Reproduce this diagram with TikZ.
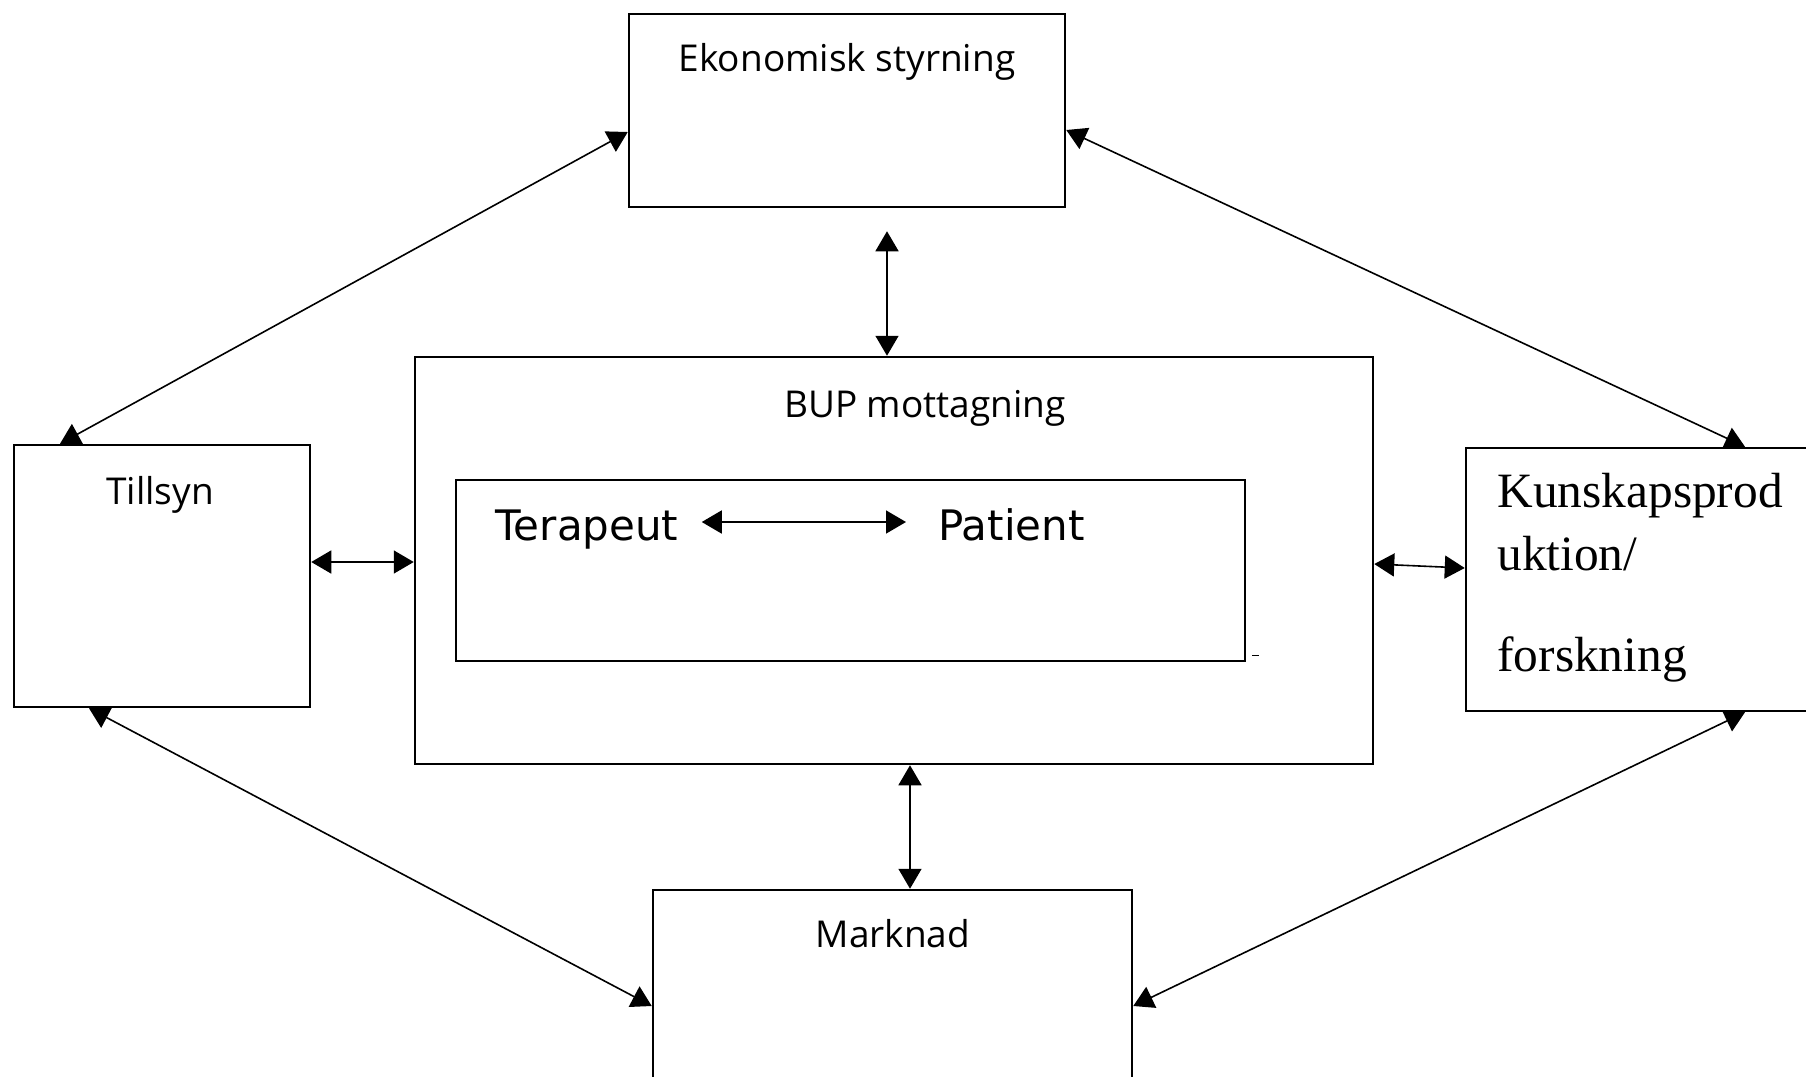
\documentclass[tikz,border=0pt]{standalone}
\usepackage{fontspec}
\newfontfamily\boxfont{Open Sans}
\newfontfamily\pairfont{DejaVu Sans}
\newfontfamily\kunfont{Liberation Serif}
\usetikzlibrary{arrows.meta}

\begin{document}
\begin{tikzpicture}
        [x=0.5pt, y=-0.5pt,
        box/.style={rectangle, draw=black, line width=1.25pt, inner sep=0pt},
        lbl/.style={anchor=base, inner sep=0pt, font=\boxfont\fontsize{18.5}{22}\selectfont},
        pair/.style={anchor=base west, inner sep=0pt, font=\pairfont\fontsize{21}{25}\selectfont},
        serif/.style={anchor=base west, inner sep=0pt, font=\kunfont\fontsize{24.7}{29}\selectfont},
        arr/.style={{Triangle[length=10pt,width=11.5pt]}-{Triangle[length=10pt,width=11.5pt]}, line width=0.8pt}]
        \useasboundingbox (0,0) rectangle (1806,1077);
        % boxes
        \node (ekon) at (847,110.5) [box, minimum width=218pt, minimum height=96.5pt] {};
        \node (bup) at (894,560.5) [box, minimum width=479pt, minimum height=203.5pt] {};
        \node (inner) at (850.5,570.5) [box, minimum width=394.5pt, minimum height=90.5pt] {};
        \node (till) at (162,576) [box, minimum width=148pt, minimum height=131pt] {};
        \node (kun) at (1648,579.5) [box, minimum width=182pt, minimum height=131.5pt] {};
        \node (mark) at (892.5,995) [box, minimum width=239.5pt, minimum height=105pt] {};
        % texts
        \node (ekontxt) at (847,71) [lbl] {Ekonomisk styrning};
        \node (tilltxt) at (160,504) [lbl] {Tillsyn};
        \node (buptxt) at (925,417) [lbl] {BUP mottagning};
        \node (marktxt) at (893,947) [lbl] {Marknad};
        \node (terap) at (495,540) [pair] {Terapeut};
        \node (pat) at (938,540) [pair] {Patient};
        \node (kuna) at (1497,507) [serif] {Kunskapsprod};
        \node (kunb) at (1497,570) [serif] {uktion/};
        \node (kunc) at (1497,671) [serif] {forskning};
        % connectors
        \draw[arr] ([yshift=-10.75pt]ekon.west) -- ([xshift=-51pt]till.north);
        \draw[arr] ([yshift=-9.75pt]ekon.east) -- ([xshift=48.5pt]kun.north);
        \draw[arr] ([xshift=20pt,yshift=-11.5pt]ekon.south) -- ([xshift=-3.5pt]bup.north);
        \draw[arr] ([yshift=7pt]till.east) -- ([yshift=-0.75pt]bup.west);
        \draw[arr] ([yshift=-1.75pt]bup.east) -- ([yshift=5.75pt]kun.west);
        \draw[arr] ([xshift=8pt]bup.south) -- ([xshift=8.75pt]mark.north);
        \draw[arr] ([xshift=-36.5pt]till.south) -- ([yshift=-5.5pt]mark.west);
        \draw[arr] ([xshift=48.5pt]kun.south) -- ([yshift=-5.5pt]mark.east);
        \draw[arr] ([xshift=11.5pt,yshift=9pt]terap.base east) -- ([xshift=-16pt,yshift=9pt]pat.base west);
        \draw[line width=0.5pt] ([xshift=3pt,yshift=3.5pt]inner.south east) -- ([xshift=6.5pt,yshift=3.5pt]inner.south east);
\end{tikzpicture}
\end{document}
